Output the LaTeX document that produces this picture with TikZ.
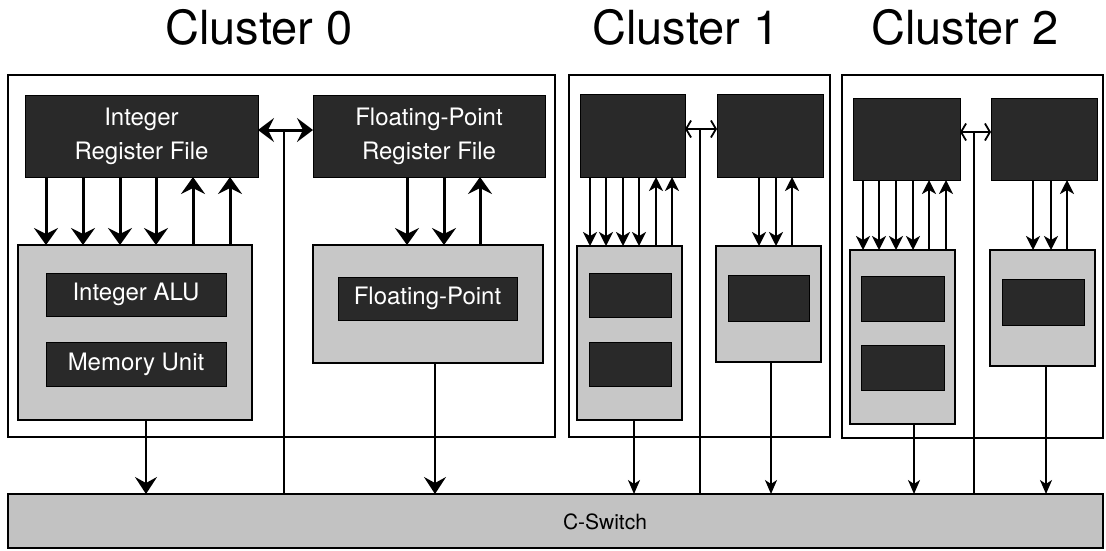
\documentclass[tikz,border=0pt]{standalone}
\usepackage{fontspec}
\setmainfont{TeX Gyre Heros}
\usetikzlibrary{arrows.meta}

\tikzset{
  darkbox/.style={fill=black!84, draw=black, line width=1pt, inner sep=0pt, outer sep=0pt,
    text=white, align=center, anchor=north west,
    font=\fontsize{24}{34}\selectfont},
  unitbox/.style={fill=black!22, draw=black, line width=2.4pt, inner sep=0pt, outer sep=0pt,
    anchor=north west},
  clusterbox/.style={draw=black, line width=1.5pt, inner sep=0pt, outer sep=0pt, anchor=north west},
  switchbox/.style={fill=black!24, draw=black, line width=2.2pt, inner sep=0pt, outer sep=0pt,
    anchor=north west},
  title/.style={anchor=base, font=\fontsize{47}{50}\selectfont},
  % cluster 0 links
  bigarrow/.style={line width=3pt, -{Stealth[length=17pt,width=24pt,inset=6pt]}},
  bigboth/.style={line width=3pt, {Stealth[length=16pt,width=24pt,inset=6pt]}-{Stealth[length=16pt,width=24pt,inset=6pt]}},
  % cluster 1 and 2 links
  smallarrow/.style={line width=2.3pt, -{Stealth[length=14pt,width=14pt,inset=4pt]}},
  smallboth/.style={line width=1.8pt, {Straight Barb[length=5pt,width=17pt]}-{Straight Barb[length=5pt,width=17pt]}},
  % links down to the switch
  busbig/.style={line width=2pt, -{Stealth[length=17pt,width=22pt,inset=6pt]}},
  bussmall/.style={line width=1.7pt, -{Stealth[length=14pt,width=12pt,inset=4pt]}},
  busline/.style={line width=1.7pt},
}

\begin{document}
\begin{tikzpicture}[x=1pt, y=-1pt]
\useasboundingbox (0,0) rectangle (1106,550);

% ---------- titles ----------
\node[title] (t0) at (259,44) {Cluster 0};
\node[title] (t1) at (686,44) {Cluster 1};
\node[title] (t2) at (965,44) {Cluster 2};

% ---------- cluster frames ----------
\node[clusterbox, minimum width=547pt, minimum height=362pt] (c0) at (8,75) {};
\node[clusterbox, minimum width=261pt, minimum height=362pt] (c1) at (569,75) {};
\node[clusterbox, minimum width=261pt, minimum height=363pt] (c2) at (842,75) {};

% ---------- switch ----------
\node[switchbox, minimum width=1095pt, minimum height=54pt] (sw) at (8,494) {};
\node[font=\fontsize{21}{24}\selectfont] (swl) at (605,522) {C-Switch};

% ---------- cluster 0 ----------
\node[darkbox, minimum width=233pt, minimum height=82pt] (irf) at (25,95) {Integer\\Register File};
\node[darkbox, minimum width=232pt, minimum height=82pt] (frf) at (313,95) {Floating-Point\\Register File};
\node[unitbox, minimum width=234pt, minimum height=175pt] (iu) at (18,245) {};
\node[darkbox, minimum width=180pt, minimum height=43pt] (alu) at (46,273) {Integer ALU};
\node[darkbox, minimum width=180pt, minimum height=44pt] (mem) at (46,342) {Memory Unit};
\node[unitbox, minimum width=230pt, minimum height=118pt] (fu) at (313,245) {};
\node[darkbox, minimum width=179pt, minimum height=43pt] (fpu) at (338,277) {Floating-Point};

\foreach \x in {46,83,120,156} \draw[bigarrow] (irf.south -| \x,0) -- (iu.north -| \x,0);
\foreach \x in {193,230} \draw[bigarrow] (iu.north -| \x,0) -- (irf.south -| \x,0);
\foreach \x in {407,444} \draw[bigarrow] (frf.south -| \x,0) -- (fu.north -| \x,0);
\draw[bigarrow] (fu.north -| 480,0) -- (frf.south -| 480,0);

\draw[bigboth] (irf.east |- 0,130) -- (frf.west |- 0,130);
\coordinate (j0) at (284,130);
\draw[busline] (j0) -- (sw.north -| j0);
\draw[busbig] (iu.south -| 146,0) -- (sw.north -| 146,0);
\draw[busbig] (fu.south -| 435,0) -- (sw.north -| 435,0);

% ---------- cluster 1 ----------
\node[darkbox, minimum width=105pt, minimum height=83pt] (rf1a) at (580,94) {};
\node[darkbox, minimum width=106pt, minimum height=83pt] (rf1b) at (717,94) {};
\node[unitbox, minimum width=105pt, minimum height=174pt] (u1a) at (577,246) {};
\node[darkbox, minimum width=82pt, minimum height=44pt] (i1a) at (589,273) {};
\node[darkbox, minimum width=82pt, minimum height=44pt] (m1a) at (589,342) {};
\node[unitbox, minimum width=105pt, minimum height=116pt] (u1b) at (716,246) {};
\node[darkbox, minimum width=81pt, minimum height=46pt] (f1b) at (728,275) {};

\foreach \x in {590,606,623,639} \draw[smallarrow] (rf1a.south -| \x,0) -- (u1a.north -| \x,0);
\foreach \x in {656,672} \draw[smallarrow] (u1a.north -| \x,0) -- (rf1a.south -| \x,0);
\foreach \x in {759,776} \draw[smallarrow] (rf1b.south -| \x,0) -- (u1b.north -| \x,0);
\draw[smallarrow] (u1b.north -| 792,0) -- (rf1b.south -| 792,0);

\draw[smallboth] (rf1a.east |- 0,129) -- (rf1b.west |- 0,129);
\coordinate (j1) at (700,129);
\draw[busline] (j1) -- (sw.north -| j1);
\draw[bussmall] (u1a.south -| 634,0) -- (sw.north -| 634,0);
\draw[bussmall] (u1b.south -| 771,0) -- (sw.north -| 771,0);

% ---------- cluster 2 ----------
\node[darkbox, minimum width=107pt, minimum height=82pt] (rf2a) at (853,98) {};
\node[darkbox, minimum width=106pt, minimum height=82pt] (rf2b) at (991,98) {};
\node[unitbox, minimum width=105pt, minimum height=174pt] (u2a) at (850,250) {};
\node[darkbox, minimum width=83pt, minimum height=45pt] (i2a) at (861,276) {};
\node[darkbox, minimum width=83pt, minimum height=45pt] (m2a) at (861,345) {};
\node[unitbox, minimum width=105pt, minimum height=116pt] (u2b) at (990,250) {};
\node[darkbox, minimum width=82pt, minimum height=46pt] (f2b) at (1002,279) {};

\foreach \x in {863,879,896,913} \draw[smallarrow] (rf2a.south -| \x,0) -- (u2a.north -| \x,0);
\foreach \x in {929,946} \draw[smallarrow] (u2a.north -| \x,0) -- (rf2a.south -| \x,0);
\foreach \x in {1033,1051} \draw[smallarrow] (rf2b.south -| \x,0) -- (u2b.north -| \x,0);
\draw[smallarrow] (u2b.north -| 1067,0) -- (rf2b.south -| 1067,0);

\draw[smallboth] (rf2a.east |- 0,132) -- (rf2b.west |- 0,132);
\coordinate (j2) at (974,132);
\draw[busline] (j2) -- (sw.north -| j2);
\draw[bussmall] (u2a.south -| 914,0) -- (sw.north -| 914,0);
\draw[bussmall] (u2b.south -| 1046,0) -- (sw.north -| 1046,0);
\end{tikzpicture}
\end{document}
